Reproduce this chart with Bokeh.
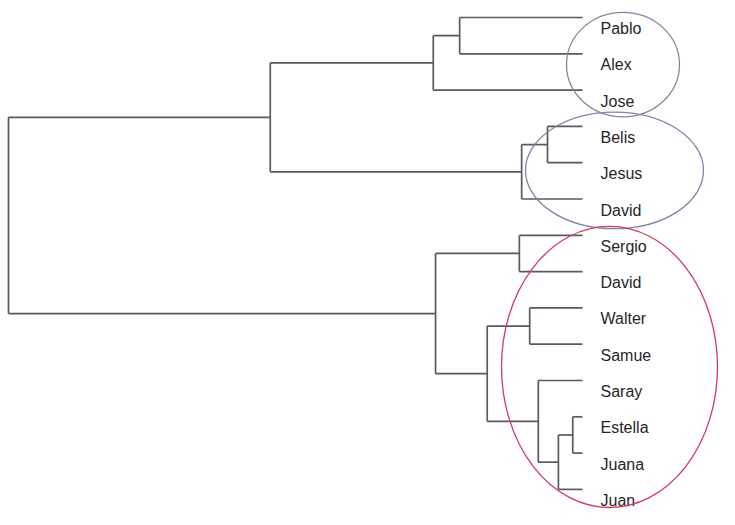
from bokeh.plotting import figure
from bokeh.models import Range1d
from bokeh.core.properties import value
from bokeh.embed import file_html
from bokeh.resources import INLINE

# ---- data ----
leaves = ["Pablo", "Alex", "Jose", "Belis", "Jesus", "David", "Sergio",
          "David", "Walter", "Samue", "Saray", "Estella", "Juana", "Juan"]
# linkage: node 14+i merges merge_a[i] and merge_b[i] at merge_height[i]
merge_a = [0, 14, 3, 16, 15, 6, 8, 11, 21, 10, 20, 19, 18]
merge_b = [1, 2, 4, 5, 17, 7, 9, 12, 13, 22, 23, 24, 25]
merge_height = [2.14, 2.60, 0.61, 1.06, 5.44, 1.10, 0.92, 0.17, 0.42, 0.77, 1.66, 2.56, 10.0]
# highlighted clusters (first leaf, last leaf)
group_first = [0, 3, 6]
group_last = [2, 5, 13]
group_colors = ["#8585a0", "#8a80a8", "#d03a5e"]

# ---- layout / style ----
W, H = 719, 509
x_px_per_unit = 57.4
root_left_px = 8
y_px_per_leaf = 36.3
leaf_top_px = 17
root_h = max(merge_height)

# node positions
n = len(leaves)
node_y = [float(i) for i in range(n)]
node_h = [0.0] * n
for a, b, h in zip(merge_a, merge_b, merge_height):
    node_y.append((node_y[a] + node_y[b]) / 2.0)
    node_h.append(h)

x0, y0, x1, y1 = [], [], [], []
for a, b, h in zip(merge_a, merge_b, merge_height):
    x0.append(h); y0.append(node_y[a]); x1.append(h); y1.append(node_y[b])
    for c in (a, b):
        x0.append(node_h[c]); y0.append(node_y[c]); x1.append(h); y1.append(node_y[c])

p = figure(width=W, height=H, output_backend="svg", toolbar_location=None,
           min_border=0, min_border_left=0, min_border_right=0,
           min_border_top=0, min_border_bottom=0)
x_left = root_h + root_left_px / x_px_per_unit
p.x_range = Range1d(x_left, x_left - W / x_px_per_unit)
p.y_range = Range1d((H - leaf_top_px) / y_px_per_leaf, -leaf_top_px / y_px_per_leaf)
p.axis.visible = False
p.grid.visible = False
p.outline_line_color = None
p.background_fill_color = "white"
p.border_fill_color = "white"

p.segment(x0=x0, y0=y0, x1=x1, y1=y1, line_color="#5a5a5a", line_width=1.7)

p.text(x=[0.0] * n, y=list(range(n)), text=leaves, x_offset=18, y_offset=11,
       text_baseline="alphabetic", text_align="left",
       text_font=value("Liberation Sans"), text_font_size="16px",
       text_color="#262626")

# cluster ellipses
ell_dx_px = [40.5, 32, 27]
ell_w_px = [113, 178, 216]
ell_extra_h_px = [32, 44, 27]
ell_dy_px = [10.8, 7.7, 4.6]
ex, ey, ew, eh = [], [], [], []
for i in range(len(group_first)):
    mid = (group_first[i] + group_last[i]) / 2.0
    ex.append(-ell_dx_px[i] / x_px_per_unit)
    ey.append(mid + ell_dy_px[i] / y_px_per_leaf)
    ew.append(ell_w_px[i])
    eh.append((group_last[i] - group_first[i]) * y_px_per_leaf + ell_extra_h_px[i])
p.ellipse(x=ex, y=ey, width=ew, height=eh, width_units="screen", height_units="screen",
          fill_color=None, line_color=group_colors, line_width=1.3)

open("out.html", "w").write(file_html(p, INLINE))
